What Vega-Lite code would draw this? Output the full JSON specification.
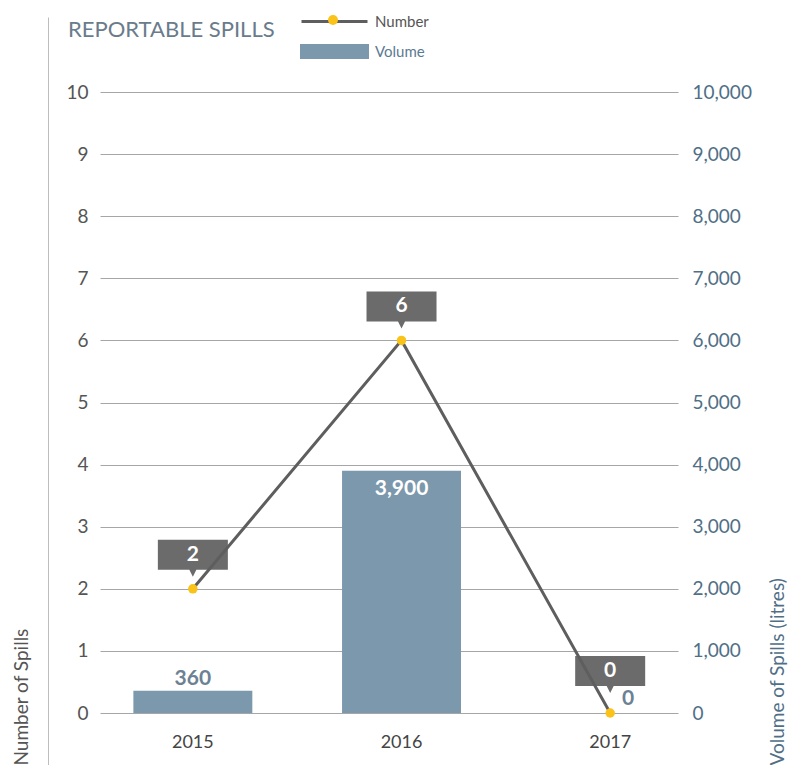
{
  "$schema": "https://vega.github.io/schema/vega-lite/v6.json",
  "width": 578,
  "height": 621,
  "autosize": {"type": "none"},
  "padding": {"left": 100, "top": 92, "right": 110, "bottom": 52},
  "background": "white",
  "config": {"font": "Lato", "view": {"stroke": null}},
  "title": {"text": "REPORTABLE SPILLS", "anchor": "start", "frame": "group", "dx": -32, "offset": 0, "dy": 45, "baseline": "alphabetic", "fontSize": 22, "fontWeight": "normal", "color": "#6a7b8b", "font": "Lato"},
  "data": {"values": [
    {"year": "2015", "number": 2, "volume": 360},
    {"year": "2016", "number": 6, "volume": 3900},
    {"year": "2017", "number": 0, "volume": 0}
  ]},
  "encoding": {
    "x": {"field": "year", "type": "ordinal",
      "scale": {"paddingInner": 0.43, "paddingOuter": 0.1, "align": 0.8},
      "axis": {"title": null, "labelAngle": 0, "domain": false, "ticks": false, "labelPadding": 20, "labelFontSize": 18, "labelColor": "#444444", "labelFont": "Lato"}}
  },
  "layer": [
    {
      "encoding": {
        "y": {"field": "volume", "type": "quantitative",
          "scale": {"domain": [0, 10000]},
          "axis": {"orient": "right", "values": [0,1000,2000,3000,4000,5000,6000,7000,8000,9000,10000], "labelExpr": "format(datum.value, ',')", "grid": false, "domain": false, "ticks": false, "labelPadding": 14, "labelFontSize": 19, "labelColor": "#4f6f87", "labelFont": "Lato",
            "title": "Volume of Spills (litres)", "titleAngle": -90, "titleAlign": "left", "titleBaseline": "alphabetic", "titleX": 105, "titleY": 673, "titleFontSize": 19, "titleFontWeight": "normal", "titleColor": "#4f6f87", "titleFont": "Lato"}}
      },
      "layer": [
        {"mark": {"type": "bar", "color": "#7b98ac"},
          "encoding": {"color": {"datum": "Volume", "type": "nominal",
            "scale": {"domain": ["Number", "Volume"], "range": ["#5e5e5e", "#7b98ac"]},
            "legend": {"orient": "none", "legendX": 227, "legendY": -78, "title": null, "symbolSize": 144, "labelOffset": 33, "rowPadding": 9, "labelFontSize": 15, "labelFont": "Lato", "padding": 0,
              "encode": {
                "symbols": {"update": {
                  "shape": {"signal": "datum.value === 'Number' ? 'M-5.5,0H5.5' : 'M-5.5,-1H5.5V1H-5.5Z'"},
                  "fill": {"signal": "datum.value === 'Number' ? 'transparent' : '#7b98ac'"},
                  "stroke": {"signal": "datum.value === 'Number' ? '#5e5e5e' : 'transparent'"},
                  "strokeWidth": {"value": 3},
                  "opacity": {"value": 1}}},
                "labels": {"update": {"fill": {"signal": "datum.value === 'Number' ? '#555555' : '#5b7a92'"}}}
              }}}}},
        {"transform": [{"filter": "datum.year === '2015'"}],
          "mark": {"type": "text", "fontSize": 21, "fontWeight": "bold", "color": "#6c8194", "baseline": "middle", "yOffset": -12},
          "encoding": {"text": {"field": "volume", "type": "quantitative", "format": ","}}},
        {"transform": [{"filter": "datum.year === '2016'"}],
          "mark": {"type": "text", "fontSize": 21, "fontWeight": "bold", "color": "#ffffff", "baseline": "middle", "yOffset": 18},
          "encoding": {"text": {"field": "volume", "type": "quantitative", "format": ","}}},
        {"transform": [{"filter": "datum.year === '2017'"}],
          "mark": {"type": "text", "fontSize": 21, "fontWeight": "bold", "color": "#6c8194", "baseline": "middle", "xOffset": 18, "yOffset": -14},
          "encoding": {"text": {"field": "volume", "type": "quantitative", "format": ","}}}
      ]
    },
    {
      "encoding": {
        "y": {"field": "number", "type": "quantitative",
          "scale": {"domain": [0, 10]},
          "axis": {"orient": "left", "values": [0,1,2,3,4,5,6,7,8,9,10], "grid": true, "gridColor": "#a6a6a6", "gridWidth": 1, "domain": false, "ticks": false, "labelPadding": 12, "labelFontSize": 19, "labelColor": "#555555", "labelFont": "Lato",
            "title": "Number of Spills", "titleAngle": -90, "titleAlign": "left", "titleBaseline": "alphabetic", "titleX": -73, "titleY": 673, "titleFontSize": 19, "titleFontWeight": "normal", "titleColor": "#555555", "titleFont": "Lato"}}
      },
      "layer": [
        {"transform": [{"filter": "datum.year !== '2017'"}],
          "mark": {"type": "point", "shape": "M-1.1667,-1.6333H1.1667V-0.6333H0.1167L0,-0.4L-0.1167,-0.6333H-1.1667Z", "size": 3600, "filled": true, "color": "#6b6b6b", "opacity": 1, "strokeWidth": 0}},
        {"transform": [{"filter": "datum.year === '2017'"}],
          "mark": {"type": "point", "shape": "M-1.1667,-1.6333H1.1667V-0.6333H0.1167L0,-0.4L-0.1167,-0.6333H-1.1667Z", "size": 3600, "filled": true, "color": "#6b6b6b", "opacity": 1, "strokeWidth": 0, "yOffset": -8}},
        {"mark": {"type": "line", "strokeWidth": 3},
          "encoding": {"color": {"datum": "Number", "type": "nominal"}}},
        {"mark": {"type": "point", "filled": true, "color": "#f9c31a", "size": 90, "opacity": 1, "strokeWidth": 0},
          "encoding": {"shape": {"datum": "dot", "type": "nominal", "scale": {"range": ["circle"]},
            "legend": {"orient": "none", "legendX": 228, "legendY": -77, "title": null, "labelExpr": "''", "symbolSize": 100, "symbolFillColor": "#f9c31a", "symbolStrokeWidth": 0, "symbolOpacity": 1, "padding": 0}}}},
        {"transform": [{"filter": "datum.year !== '2017'"}],
          "mark": {"type": "text", "fontSize": 21, "fontWeight": "bold", "color": "#ffffff", "baseline": "middle", "yOffset": -34},
          "encoding": {"text": {"field": "number", "type": "quantitative"}}},
        {"transform": [{"filter": "datum.year === '2017'"}],
          "mark": {"type": "text", "fontSize": 21, "fontWeight": "bold", "color": "#ffffff", "baseline": "middle", "yOffset": -42},
          "encoding": {"text": {"field": "number", "type": "quantitative"}}}
      ]
    },
    {
      "mark": {"type": "point", "opacity": 0},
      "encoding": {
        "y": {"field": "number", "type": "quantitative",
          "scale": {"domain": [0, 10], "range": [673, -75]},
          "axis": {"orient": "left", "offset": 52, "labels": false, "ticks": false, "grid": false, "domainColor": "#bdbdbd", "domainWidth": 1, "title": null}}
      }
    }
  ],
  "resolve": {"scale": {"y": "independent"}}
}
